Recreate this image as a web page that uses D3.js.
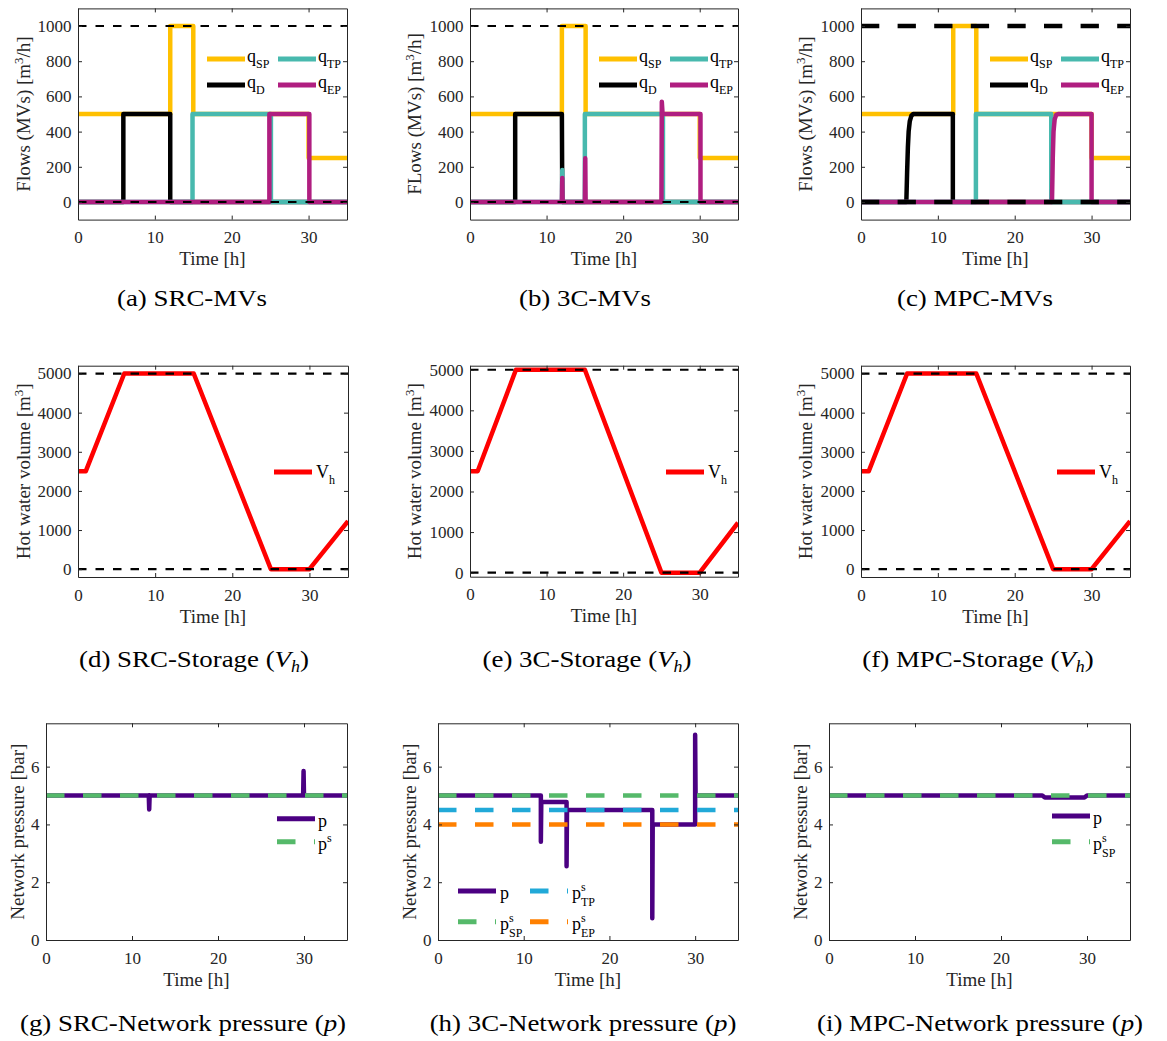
<!DOCTYPE html>
<html lang="en">
<head>
<meta charset="utf-8">
<title>MVs, storage and network pressure</title>
<script src="https://cdn.jsdelivr.net/npm/d3@7"></script>
<style>
body { margin: 0; background: #fff; }
text { font-family: "Liberation Serif", "Times New Roman", serif; }
</style>
</head>
<body>
<script>
// ---- tick values ----
var timeTicks = [0, 10, 20, 30];
var flowTicks = [0, 200, 400, 600, 800, 1000];
var volTicks = [0, 1000, 2000, 3000, 4000, 5000];
var presTicks = [0, 2, 4, 6];

// ---- limits / setpoints (dashed lines) ----
var flowLimits = [0, 1000];
var volLimits = [0, 5000];
var pSetSP = 5, pSetTP = 4.5, pSetEP = 4;

// ---- (a) SRC flows  [time h, m3/h] ----
var srcQsp = [[0,500],[12,500],[12,1000],[15,1000],[15,500],[30,500],[30,250],[35,250]];
var srcQd  = [[0,0],[5.9,0],[5.9,500],[12,500],[12,0],[35,0]];
var srcQtp = [[0,0],[14.9,0],[14.9,500],[25.1,500],[25.1,0],[35,0]];
var srcQep = [[0,0],[24.9,0],[24.9,500],[30.1,500],[30.1,0],[35,0]];

// ---- (b) 3C flows ----
var c3Qsp = [[0,500],[12,500],[12,1000],[15.1,1000],[15.1,500],[30,500],[30,250],[35,250]];
var c3Qd  = [[0,0],[5.9,0],[5.9,500],[12,500],[12.05,0],[35,0]];
var c3Qtp = [[0,0],[12,0],[12.05,182],[12.1,0],[15,0],[15,500],[25.2,500],[25.2,0],[35,0]];
var c3Qep = [[0,0],[12,0],[12.05,136],[12.1,0],[15,0],[15.05,248],[15.1,0],[25,0],[25.05,570],[25.15,500],[30.1,500],[30.1,0],[35,0]];

// ---- (c) MPC flows ----
var mpcQsp = [[0,500],[12,500],[12,1000],[15,1000],[15,500],[30,500],[30,250],[35,250]];
var mpcQd  = [[0,0],[5.9,0],[6.0,170],[6.1,310],[6.2,400],[6.35,460],[6.55,490],[6.8,500],[11.95,500],[11.95,0],[35,0]];
var mpcQtp = [[0,0],[14.95,0],[14.95,500],[24.75,500],[24.75,0],[35,0]];
var mpcQep = [[0,0],[24.85,0],[24.95,250],[25.05,400],[25.2,470],[25.4,495],[25.65,500],[30,500],[30,0],[35,0]];

// ---- (d)(e)(f) hot water volume [m3] ----
var srcVh = [[0,2500],[1,2500],[6,5000],[15,5000],[25,0],[30,0],[35,1230]];
var c3Vh  = [[0,2500],[1,2500],[6,5000],[15,5000],[25,0],[30,0],[35,1230]];
var mpcVh = [[0,2500],[1,2500],[6,5000],[15,5000],[25,0],[30,0],[35,1230]];

// ---- (g)(h)(i) network pressure [bar] ----
var srcP = [[0,5],[11.95,5],[12,4.52],[12.05,5],[29.9,5],[29.95,5.85],[30,5],[35,5]];
var c3P  = [[0,5],[12,5],[12,3.4],[12.05,4.78],[15,4.78],[15,2.55],[15.05,4.5],[25,4.5],[25,0.75],[25.05,4.0],[30,4.0],[30,7.1],[30.05,5],[35,5]];
var mpcP = [[0,5],[24.8,5],[25.1,4.93],[29.7,4.93],[30,5],[35,5]];

// colours
var colSP = "#FFC000", colTP = "#48B9AE", colD = "#000000", colEP = "#B01E80";
var colV = "#FF0000", colP = "#4B0082", colPsp = "#55B96A", colPtp = "#21A9D8", colPep = "#FF8000";
var axC = "#262626";

var svg = d3.select("body").append("svg")
  .attr("width", 1167).attr("height", 1041)
  .style("background", "#fff");
var defs = svg.append("defs");
var clipN = 0;

function styleAxis(sel) {
  sel.attr("font-family", null).attr("font-size", null);
  sel.select(".domain").attr("stroke", axC).attr("stroke-width", 1);
  sel.selectAll(".tick line").attr("stroke", axC).attr("stroke-width", 1);
  sel.selectAll("text").attr("fill", axC).style("font-size", "17px");
}

function drawLegend(g, items, L) {
  items.forEach(function(it) {
    var sx = L.cols[it.col], sy = L.rows[it.row];
    g.append("line")
      .attr("x1", sx).attr("x2", sx + 38).attr("y1", sy).attr("y2", sy)
      .attr("stroke", it.color).attr("stroke-width", 5)
      .attr("stroke-dasharray", it.dash || null);
    var t = g.append("text")
      .attr("x", sx + L.tx).attr("y", sy + L.base)
      .attr("fill", "#000").style("font-size", "18px");
    t.append("tspan").text(it.main);
    if (it.sup && it.sub) {
      t.append("tspan").attr("dy", -8).style("font-size", "12px").text(it.sup);
      t.append("tspan").attr("dx", -4.7).attr("dy", 15).style("font-size", "12px").text(it.sub);
    } else if (it.sup) {
      t.append("tspan").attr("dy", -8).style("font-size", "12px").text(it.sup);
    } else if (it.sub) {
      t.append("tspan").attr("dy", 6).style("font-size", "12px").text(it.sub);
    }
  });
}

function drawPanel(p) {
  var x = d3.scaleLinear().domain([0, 35]).range([p.x0, p.x1]);
  var y = d3.scaleLinear().domain(p.ydom).range([p.y1, p.y0]);
  var id = "clip" + (clipN++);
  defs.append("clipPath").attr("id", id).append("rect")
    .attr("x", p.x0).attr("y", p.y0)
    .attr("width", p.x1 - p.x0).attr("height", p.y1 - p.y0);

  var g = svg.append("g");
  var plot = g.append("g").attr("clip-path", "url(#" + id + ")");
  var line = d3.line().x(function(d) { return x(d[0]); }).y(function(d) { return y(d[1]); });

  p.series.forEach(function(s) {
    plot.append("path").attr("d", line(s.data))
      .attr("fill", "none").attr("stroke", s.color)
      .attr("stroke-width", 4.5).attr("stroke-linejoin", "round");
  });
  p.hlines.forEach(function(h) {
    plot.append("line")
      .attr("x1", p.x0).attr("x2", p.x1)
      .attr("y1", y(h.v)).attr("y2", y(h.v))
      .attr("stroke", h.color).attr("stroke-width", h.w)
      .attr("stroke-dasharray", h.dash);
  });

  // box with inward ticks
  g.append("g").attr("transform", "translate(0," + p.y1 + ")")
    .call(d3.axisBottom(x).tickValues(timeTicks).tickSize(-4).tickSizeOuter(0).tickPadding(11.5))
    .call(styleAxis);
  g.append("g").attr("transform", "translate(0," + p.y0 + ")")
    .call(d3.axisTop(x).tickValues(timeTicks).tickSize(-4).tickSizeOuter(0).tickFormat(""))
    .call(styleAxis);
  g.append("g").attr("transform", "translate(" + p.x0 + ",0)")
    .call(d3.axisLeft(y).tickValues(p.yticks).tickSize(-4).tickSizeOuter(0).tickPadding(6.5).tickFormat(d3.format("d")))
    .call(styleAxis);
  g.append("g").attr("transform", "translate(" + p.x1 + ",0)")
    .call(d3.axisRight(y).tickValues(p.yticks).tickSize(-4).tickSizeOuter(0).tickFormat(""))
    .call(styleAxis);

  // axis labels
  g.append("text")
    .attr("x", (p.x0 + p.x1) / 2).attr("y", p.y1 + 45.5)
    .attr("text-anchor", "middle").attr("fill", axC).style("font-size", "19px")
    .text("Time [h]");
  var yl = g.append("text")
    .attr("transform", "translate(" + (p.x0 - p.ylOff) + "," + ((p.y0 + p.y1) / 2) + ") rotate(-90)")
    .attr("text-anchor", "middle").attr("fill", axC).style("font-size", "19px");
  p.ylabel.forEach(function(part) {
    var ts = yl.append("tspan").text(part.t);
    if (part.sup) ts.attr("dy", -7).style("font-size", "13px");
    if (part.back) ts.attr("dy", 7);
  });

  drawLegend(g, p.legend, p.legendPos(p.x0, p.y0));
}

var flowLabel = function(first) {
  return [{t: first + " (MVs) [m"}, {t: "3", sup: true}, {t: "/h]", back: true}];
};
var volLabel = [{t: "Hot water volume [m"}, {t: "3", sup: true}, {t: "]", back: true}];
var presLabel = [{t: "Network pressure [bar]"}];

var flowLegend = [
  {main: "q", sub: "SP", color: colSP, col: 0, row: 0},
  {main: "q", sub: "TP", color: colTP, col: 1, row: 0},
  {main: "q", sub: "D",  color: colD,  col: 0, row: 1},
  {main: "q", sub: "EP", color: colEP, col: 1, row: 1}
];
var flowLegendPos = function(x0, y0) {
  return {cols: [x0 + 129, x0 + 200], rows: [y0 + 50.6, y0 + 76.6], tx: 40, base: 2.5};
};
var volLegend = [{main: "V", sub: "h", color: colV, col: 0, row: 0}];
var volLegendPos = function(x0, y0) {
  return {cols: [x0 + 196], rows: [y0 + 106.3], tx: 42, base: 5.5};
};

function flowHlines(thick) {
  return flowLimits.map(function(v) {
    return thick ? {v: v, color: "#000", w: 4.5, dash: "18.3,18.3"}
                 : {v: v, color: "#000", w: 2.2, dash: "8.5,9"};
  });
}
function volHlines() {
  return volLimits.map(function(v) { return {v: v, color: "#000", w: 2.2, dash: "8.5,9"}; });
}
function flowSeries(sp, d, tp, ep) {
  return [{data: sp, color: colSP}, {data: d, color: colD}, {data: tp, color: colTP}, {data: ep, color: colEP}];
}

var R1 = {y0: 8.4, y1: 219.6, ydom: [-100, 1100], yticks: flowTicks};
var panels = [
  Object.assign({x0: 78, x1: 347, series: flowSeries(srcQsp, srcQd, srcQtp, srcQep), hlines: flowHlines(false),
    ylabel: flowLabel("Flows"), ylOff: 48, legend: flowLegend, legendPos: flowLegendPos}, R1),
  Object.assign({x0: 470, x1: 738, series: flowSeries(c3Qsp, c3Qd, c3Qtp, c3Qep), hlines: flowHlines(false),
    ylabel: flowLabel("FLows"), ylOff: 49, legend: flowLegend, legendPos: flowLegendPos}, R1),
  Object.assign({x0: 861, x1: 1130, series: flowSeries(mpcQsp, mpcQd, mpcQtp, mpcQep), hlines: flowHlines(true),
    ylabel: flowLabel("Flows"), ylOff: 49, legend: flowLegend, legendPos: flowLegendPos}, R1),

  {x0: 78, x1: 348, y0: 365.7, y1: 577, ydom: [-200, 5200], yticks: volTicks,
    series: [{data: srcVh, color: colV}], hlines: volHlines(), ylabel: volLabel, ylOff: 48,
    legend: volLegend, legendPos: volLegendPos},
  {x0: 470, x1: 738, y0: 365.7, y1: 576.7, ydom: [-100, 5100], yticks: volTicks,
    series: [{data: c3Vh, color: colV}], hlines: volHlines(), ylabel: volLabel, ylOff: 49,
    legend: volLegend, legendPos: volLegendPos},
  {x0: 861, x1: 1130, y0: 365.7, y1: 577, ydom: [-200, 5200], yticks: volTicks,
    series: [{data: mpcVh, color: colV}], hlines: volHlines(), ylabel: volLabel, ylOff: 49,
    legend: volLegend, legendPos: volLegendPos},

  {x0: 46, x1: 347, y0: 723.3, y1: 940, ydom: [0, 7.5], yticks: presTicks,
    series: [{data: srcP, color: colP}],
    hlines: [{v: pSetSP, color: colPsp, w: 4.5, dash: "18.5,18.5"}],
    ylabel: presLabel, ylOff: 22.5,
    legend: [
      {main: "p", color: colP, col: 0, row: 0},
      {main: "p", sup: "s", color: colPsp, dash: "18.5,18.5", col: 0, row: 1}
    ],
    legendPos: function(x0, y0) { return {cols: [x0 + 231], rows: [y0 + 95.4, y0 + 118.4], tx: 41, base: 8}; }},
  {x0: 438, x1: 738, y0: 723.3, y1: 940, ydom: [0, 7.5], yticks: presTicks,
    series: [{data: c3P, color: colP}],
    hlines: [
      {v: pSetSP, color: colPsp, w: 4.5, dash: "18.5,18.5"},
      {v: pSetTP, color: colPtp, w: 4.5, dash: "18.5,18.5"},
      {v: pSetEP, color: colPep, w: 4.5, dash: "18.5,18.5"}
    ],
    ylabel: presLabel, ylOff: 22.5,
    legend: [
      {main: "p", color: colP, col: 0, row: 0},
      {main: "p", sup: "s", sub: "TP", color: colPtp, dash: "18.5,18.5", col: 1, row: 0},
      {main: "p", sup: "s", sub: "SP", color: colPsp, dash: "18.5,18.5", col: 0, row: 1},
      {main: "p", sup: "s", sub: "EP", color: colPep, dash: "18.5,18.5", col: 1, row: 1}
    ],
    legendPos: function(x0, y0) { return {cols: [x0 + 20, x0 + 92], rows: [y0 + 167.7, y0 + 198.4], tx: 42, base: 8}; }},
  {x0: 829, x1: 1130, y0: 723.3, y1: 940, ydom: [0, 7.5], yticks: presTicks,
    series: [{data: mpcP, color: colP}],
    hlines: [{v: pSetSP, color: colPsp, w: 4.5, dash: "18.5,18.5"}],
    ylabel: presLabel, ylOff: 22.5,
    legend: [
      {main: "p", color: colP, col: 0, row: 0},
      {main: "p", sup: "s", sub: "SP", color: colPsp, dash: "18.5,18.5", col: 0, row: 1}
    ],
    legendPos: function(x0, y0) { return {cols: [x0 + 223], rows: [y0 + 92.7, y0 + 118.4], tx: 41, base: 8}; }}
];

panels.forEach(drawPanel);

// ---- sub-captions ----
var captions = [
  {cx: 192, by: 306, parts: [{t: "(a) SRC-MVs"}]},
  {cx: 585, by: 306, parts: [{t: "(b) 3C-MVs"}]},
  {cx: 975, by: 306, parts: [{t: "(c) MPC-MVs"}]},
  {cx: 194, by: 667, parts: [{t: "(d) SRC-Storage ("}, {t: "V", i: true}, {t: "h", i: true, sub: true}, {t: ")"}]},
  {cx: 587, by: 667, parts: [{t: "(e) 3C-Storage ("}, {t: "V", i: true}, {t: "h", i: true, sub: true}, {t: ")"}]},
  {cx: 978, by: 667, parts: [{t: "(f) MPC-Storage ("}, {t: "V", i: true}, {t: "h", i: true, sub: true}, {t: ")"}]},
  {cx: 183, by: 1031, parts: [{t: "(g) SRC-Network pressure ("}, {t: "p", i: true}, {t: ")"}]},
  {cx: 583, by: 1031, parts: [{t: "(h) 3C-Network pressure ("}, {t: "p", i: true}, {t: ")"}]},
  {cx: 980, by: 1031, parts: [{t: "(i) MPC-Network pressure ("}, {t: "p", i: true}, {t: ")"}]}
];

captions.forEach(function(c) {
  var t = svg.append("g")
    .attr("transform", "translate(" + c.cx + "," + c.by + ") scale(1.12,1)")
    .append("text").attr("text-anchor", "middle").attr("fill", "#000")
    .style("font-size", "24px");
  var wasSub = false;
  c.parts.forEach(function(pt) {
    var ts = t.append("tspan").text(pt.t);
    if (pt.i) ts.style("font-style", "italic");
    if (pt.sub) { ts.attr("dy", 5).style("font-size", "16px"); wasSub = true; }
    else if (wasSub) { ts.attr("dy", -5); wasSub = false; }
  });
});
</script>
</body>
</html>
